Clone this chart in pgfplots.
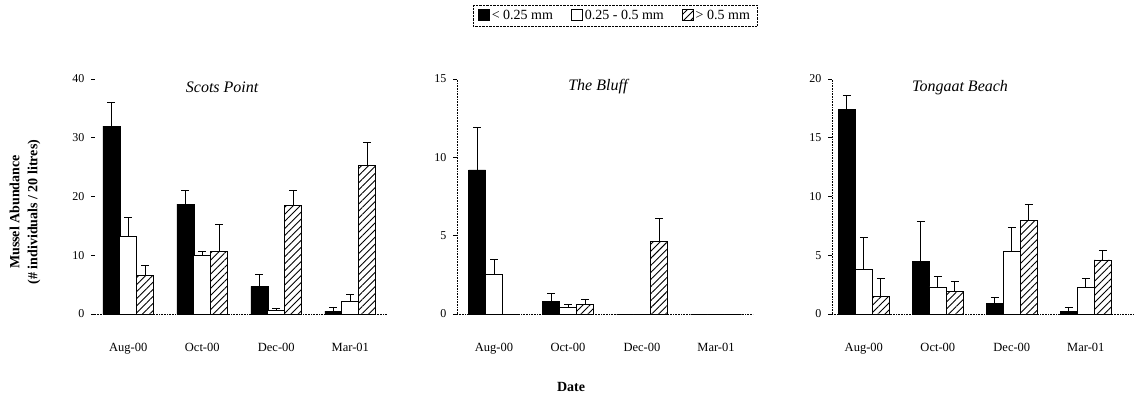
\documentclass[border=0pt]{standalone}
\usepackage{fontspec}
\setmainfont{Liberation Serif}
\usepackage{pgfplots}
\pgfplotsset{compat=1.18}
\usepackage{pgfplotstable}
\usetikzlibrary{patterns.meta}

% mean abundance and upper error (SE) per size class
\pgfplotstableread{
x  a    ae   b    be   c    ce
0  32.0 4.0  13.2 3.2  6.6  1.6
1  18.7 2.4  10.0 0.6  10.6 4.6
2  4.7  2.1  0.6  0.4  18.5 2.6
3  0.5  0.7  2.2  1.1  25.3 3.9
}\scots
\pgfplotstableread{
x  a    ae   b    be   c    ce
0  9.2  2.7  2.5  1.0  0.0  0.0
1  0.8  0.5  0.4  0.2  0.6  0.3
2  0.0  0.0  0.0  0.0  4.6  1.5
3  0.0  0.0  0.0  0.0  0.0  0.0
}\bluff
\pgfplotstableread{
x  a    ae   b    be   c    ce
0  17.4 1.2  3.8  2.7  1.5  1.5
1  4.5  3.4  2.3  0.9  1.9  0.9
2  0.9  0.5  5.3  2.1  8.0  1.3
3  0.2  0.4  2.3  0.7  4.6  0.8
}\tongaat

\tikzset{
  sizeA/.style={fill=black, draw=black, line width=0.6pt},
  sizeB/.style={fill=white, draw=black, line width=0.9pt},
  sizeC/.style={draw=black, line width=0.9pt,
    pattern={Lines[angle=45, distance=5pt, line width=0.9pt]}},
  ttl/.style={font=\fontsize{16}{18}\selectfont\itshape},
}
\pgfplotsset{
  panel/.style={
    ybar=0pt, bar width=17pt,
    x=74pt,
    anchor=south west,
    ymin=0,
    axis x line*=bottom, axis y line*=left,
    axis line style={black, densely dotted, line width=0.6pt},
    xtick={0,1,2,3},
    xticklabels={Aug-00,Oct-00,Dec-00,Mar-01},
    x tick style={draw=none},
    y tick style={black, solid, line width=0.6pt},
    tick align=outside, major tick length=4pt,
    xticklabel style={font=\fontsize{12.5}{14}\selectfont, yshift=-22pt},
    yticklabel style={font=\fontsize{12}{14}\selectfont, xshift=-3pt},
    /pgf/number format/assume math mode=true,
    clip=false,
    error bars/y dir=plus, error bars/y explicit,
    error bars/error bar style={black, solid, line width=0.9pt},
    error bars/error mark options={rotate=90, mark size=4pt, line width=0.9pt, black, solid},
    legend image code/.code={\draw[#1, solid] (0pt,-5pt) rectangle (11pt,6pt);},
  },
}

\begin{document}
\begin{tikzpicture}
\useasboundingbox (0,0) rectangle (1134pt,-400pt);

% Scots Point
\begin{axis}[panel, at={(95pt,-314pt)}, y=5.875pt, ymax=40,
  xmin=-0.45, xmax=3.5, ytick={0,10,20,30,40},
  y axis line style={draw=none}]
  \addplot[sizeA] table[x=x, y=a, y error=ae] {\scots};
  \addplot[sizeB] table[x=x, y=b, y error=be] {\scots};
  \addplot[sizeC] table[x=x, y=c, y error=ce] {\scots};
  \node[ttl] at (rel axis cs:0.435,0.966) {Scots Point};
\end{axis}

% The Bluff
\begin{axis}[panel, at={(457pt,-314pt)}, y=15.667pt, ymax=15,
  xmin=-0.5, xmax=3.5, ytick={0,5,10,15},
  legend columns=3,
  legend style={at={(0.534,1.27)}, anchor=center, draw=black, densely dotted,
    font=\fontsize{14}{16}\selectfont, inner xsep=5pt, inner ysep=3pt,
    /tikz/every even column/.append style={column sep=16pt}},
  ]
  \addplot[sizeA] table[x=x, y=a, y error=ae] {\bluff};
  \addplot[sizeB] table[x=x, y=b, y error=be] {\bluff};
  \addplot[sizeC] table[x=x, y=c, y error=ce] {\bluff};
  \legend{< 0.25 mm, 0.25 - 0.5 mm, > 0.5 mm}
  \node[ttl] at (rel axis cs:0.476,0.966) {The Bluff};
\end{axis}

% Tongaat Beach
\begin{axis}[panel, at={(832pt,-314pt)}, y=11.75pt, ymax=20,
  xmin=-0.43, xmax=3.65, ytick={0,5,10,15,20}]
  \addplot[sizeA] table[x=x, y=a, y error=ae] {\tongaat};
  \addplot[sizeB] table[x=x, y=b, y error=be] {\tongaat};
  \addplot[sizeC] table[x=x, y=c, y error=ce] {\tongaat};
  \node[ttl] at (rel axis cs:0.424,0.962) {Tongaat Beach};
\end{axis}

\node[font=\fontsize{14}{16}\selectfont\bfseries] at (571pt,-387pt) {Date};
\node[font=\fontsize{14}{18}\selectfont\bfseries, rotate=90, align=center]
  at (25pt,-212pt) {Mussel Abundance\\(\# individuals / 20 litres)};
\end{tikzpicture}
\end{document}
